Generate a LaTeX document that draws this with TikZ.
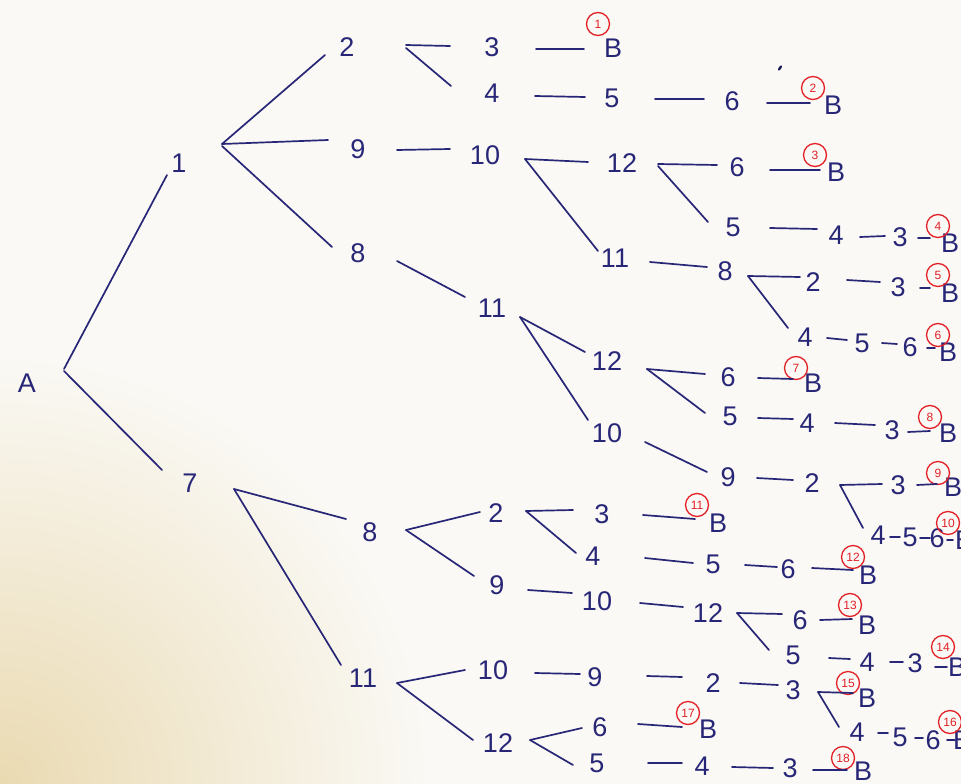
\documentclass[tikz,border=0pt]{standalone}
\usepackage{fontspec}
\setmainfont{Liberation Sans}
\definecolor{ink}{RGB}{40,38,118}
\definecolor{cred}{RGB}{226,32,38}
\definecolor{paper}{RGB}{250,249,245}
\definecolor{warm}{RGB}{234,218,178}
\newcommand{\lblfont}{\fontsize{27}{30}\selectfont}
\newcommand{\cn}[6]{\draw[ln] ([shift={(#2,#3)}]#1.center) -- ([shift={(#5,#6)}]#4.center);}
\begin{document}
\begin{tikzpicture}[x=1pt,y=-1pt,
  lbl/.style={font=\lblfont, text=ink, inner sep=0pt},
  cnum/.style={circle, draw=cred, line width=1.3pt, text=cred, font=\fontsize{12}{12}\selectfont, inner sep=0.5pt, minimum size=23pt},
  ln/.style={draw=ink, line width=1.7pt, line cap=round}]
\useasboundingbox (0,0) rectangle (961,784);
\clip (0,0) rectangle (961,784);
\fill[paper] (0,0) rectangle (961,784);
\shade[inner color=warm, outer color=paper] (0,784) circle (430);
\fill[ink!70!black, rotate around={-35:(780,68)}] (780,68) ellipse (1.3 and 3);
% labels
\node[lbl] (A) at (27,383) {A};
\node[lbl] (n1) at (179,163) {1};
\node[lbl] (n7) at (190,483) {7};
\node[lbl] (a2) at (347,47) {2};
\node[lbl] (a9) at (358,149) {9};
\node[lbl] (a8) at (358,253) {8};
\node[lbl] (a3) at (492,47) {3};
\node[lbl] (aB1) at (613,48) {B};
\node[lbl] (a4) at (492,93) {4};
\node[lbl] (a5) at (612,98) {5};
\node[lbl] (a6) at (732,101) {6};
\node[lbl] (aB2) at (833,105) {B};
\node[lbl] (a10) at (485,155) {10};
\node[lbl] (a12) at (622,163) {12};
\node[lbl] (a126) at (737,167) {6};
\node[lbl] (aB3) at (836,172) {B};
\node[lbl] (a125) at (733,227) {5};
\node[lbl] (a124) at (836,235) {4};
\node[lbl] (a123) at (900,237) {3};
\node[lbl] (aB4) at (950,243) {B};
\node[lbl] (a11) at (615,258) {11};
\node[lbl] (a118) at (725,271) {8};
\node[lbl] (a82) at (813,282) {2};
\node[lbl] (a83) at (898,287) {3};
\node[lbl] (aB5) at (950,293) {B};
\node[lbl] (a84) at (805,337) {4};
\node[lbl] (a85) at (862,343) {5};
\node[lbl] (a86) at (910,347) {6};
\node[lbl] (aB6) at (948,352) {B};
\node[lbl] (b11) at (492,308) {11};
\node[lbl] (b12) at (607,361) {12};
\node[lbl] (b6) at (728,377) {6};
\node[lbl] (bB7) at (813,383) {B};
\node[lbl] (b5) at (730,416) {5};
\node[lbl] (b4) at (807,423) {4};
\node[lbl] (b3) at (892,430) {3};
\node[lbl] (bB8) at (948,433) {B};
\node[lbl] (b10) at (607,433) {10};
\node[lbl] (b9) at (728,477) {9};
\node[lbl] (b2) at (812,483) {2};
\node[lbl] (b3x) at (898,485) {3};
\node[lbl] (bB9) at (953,487) {B};
\node[lbl] (b4x) at (878,535) {4};
\node[lbl] (b5x) at (910,537) {5};
\node[lbl] (b6x) at (937,538) {6};
\node[lbl] (bB10) at (964,540) {B};
\node[lbl] (d8) at (370,532) {8};
\node[lbl] (d2) at (496,513) {2};
\node[lbl] (d3) at (602,514) {3};
\node[lbl] (dB11) at (718,523) {B};
\node[lbl] (d4) at (593,556) {4};
\node[lbl] (d5) at (713,564) {5};
\node[lbl] (d6) at (788,569) {6};
\node[lbl] (dB12) at (868,575) {B};
\node[lbl] (d9) at (497,585) {9};
\node[lbl] (d10) at (597,601) {10};
\node[lbl] (d12) at (708,613) {12};
\node[lbl] (d6b) at (800,620) {6};
\node[lbl] (dB13) at (867,625) {B};
\node[lbl] (d5b) at (793,655) {5};
\node[lbl] (d4b) at (867,662) {4};
\node[lbl] (d3b) at (915,663) {3};
\node[lbl] (dB14) at (957,667) {B};
\node[lbl] (e11) at (363,678) {11};
\node[lbl] (e10) at (493,670) {10};
\node[lbl] (e9) at (595,677) {9};
\node[lbl] (e2) at (713,683) {2};
\node[lbl] (e3) at (793,690) {3};
\node[lbl] (eB15) at (867,698) {B};
\node[lbl] (e4) at (857,732) {4};
\node[lbl] (e5) at (900,737) {5};
\node[lbl] (e6) at (933,740) {6};
\node[lbl] (eB16) at (962,740) {B};
\node[lbl] (e12) at (498,743) {12};
\node[lbl] (e6b) at (600,727) {6};
\node[lbl] (eB17) at (708,729) {B};
\node[lbl] (e5b) at (597,763) {5};
\node[lbl] (e4b) at (702,766) {4};
\node[lbl] (e3b) at (790,768) {3};
\node[lbl] (eB18) at (863,771) {B};
% circled numbers
\node[cnum] (c1) at (598,24) {1};
\node[cnum] (c2) at (813,88) {2};
\node[cnum] (c3) at (815,155) {3};
\node[cnum] (c4) at (938,226) {4};
\node[cnum] (c5) at (938,275) {5};
\node[cnum] (c6) at (938,335) {6};
\node[cnum] (c7) at (796,368) {7};
\node[cnum] (c8) at (930,417) {8};
\node[cnum] (c9) at (938,473) {9};
\node[cnum] (c10) at (948,523) {10};
\node[cnum] (c11) at (697,505) {11};
\node[cnum] (c12) at (853,557) {12};
\node[cnum] (c13) at (850,605) {13};
\node[cnum] (c14) at (943,647) {14};
\node[cnum] (c15) at (848,683) {15};
\node[cnum] (c16) at (950,722) {16};
\node[cnum] (c17) at (688,713) {17};
\node[cnum] (c18) at (843,758) {18};
% connectors
\cn{A}{37}{-14}{n1}{-12}{12}
\cn{A}{37}{-12}{n7}{-28}{-13}
\cn{n1}{43}{-19}{a2}{-22}{8}
\cn{n1}{43}{-19}{a9}{-30}{-9}
\cn{n1}{43}{-17}{a8}{-26}{-6}
\cn{a2}{59}{-2}{a3}{-42}{-1}
\cn{a2}{59}{1}{a4}{-41}{-7}
\cn{a3}{44}{2}{aB1}{-29}{1}
\cn{a4}{43}{3}{a5}{-27}{-1}
\cn{a5}{43}{1}{a6}{-28}{-2}
\cn{a6}{35}{2}{aB2}{-23}{-2}
\cn{a9}{39}{1}{a10}{-35}{-6}
\cn{a10}{40}{4}{a12}{-34}{-1}
\cn{a10}{40}{4}{a11}{-17}{-7}
\cn{a12}{36}{1}{a126}{-20}{-2}
\cn{a12}{36}{3}{a125}{-25}{-5}
\cn{a126}{33}{3}{aB3}{-16}{-2}
\cn{a125}{37}{1}{a124}{-19}{-6}
\cn{a124}{24}{2}{a123}{-15}{-1}
\cn{a123}{18}{1}{aB4}{-20}{-5}
\cn{a11}{35}{4}{a118}{-18}{-4}
\cn{a118}{23}{5}{a82}{-13}{-5}
\cn{a118}{23}{5}{a84}{-17}{-9}
\cn{a82}{34}{-2}{a83}{-18}{-5}
\cn{a83}{22}{1}{aB5}{-20}{-5}
\cn{a84}{22}{1}{a85}{-15}{-3}
\cn{a85}{20}{0}{a86}{-13}{-3}
\cn{a86}{17}{1}{aB6}{-13}{-4}
\cn{a8}{39}{8}{b11}{-27}{-11}
\cn{b11}{28}{9}{b12}{-22}{-9}
\cn{b11}{28}{9}{b10}{-19}{-13}
\cn{b12}{40}{8}{b6}{-23}{-3}
\cn{b12}{40}{8}{b5}{-25}{-3}
\cn{b6}{30}{1}{bB7}{-20}{-4}
\cn{b5}{28}{2}{b4}{-14}{-4}
\cn{b4}{28}{0}{b3}{-17}{-5}
\cn{b3}{16}{2}{bB8}{-18}{-2}
\cn{b10}{38}{9}{b9}{-21}{-5}
\cn{b9}{29}{1}{b2}{-19}{-3}
\cn{b2}{28}{2}{b3x}{-16}{-1}
\cn{b2}{28}{2}{b4x}{-15}{-7}
\cn{b3x}{19}{0}{bB9}{-16}{-3}
\cn{b4x}{12}{2}{b5x}{-10}{0}
\cn{b5x}{10}{1}{b6x}{-7}{0}
\cn{b6x}{10}{2}{bB10}{-11}{0}
\cn{n7}{44}{6}{d8}{-24}{-13}
\cn{n7}{44}{6}{e11}{-22}{-13}
\cn{d8}{36}{-2}{d2}{-16}{-1}
\cn{d8}{36}{-2}{d9}{-23}{-9}
\cn{d2}{30}{-2}{d3}{-29}{-4}
\cn{d2}{30}{-2}{d4}{-17}{-3}
\cn{d3}{41}{1}{dB11}{-23}{-4}
\cn{d4}{52}{2}{d5}{-20}{-1}
\cn{d5}{32}{1}{d6}{-11}{-2}
\cn{d6}{24}{-1}{dB12}{-15}{-5}
\cn{d9}{31}{5}{d10}{-25}{-8}
\cn{d10}{43}{2}{d12}{-25}{-6}
\cn{d12}{29}{0}{d6b}{-18}{-6}
\cn{d12}{29}{0}{d5b}{-24}{-5}
\cn{d6b}{20}{0}{dB13}{-15}{-6}
\cn{d5b}{36}{3}{d4b}{-17}{-3}
\cn{d4b}{23}{0}{d3b}{-12}{-1}
\cn{d3b}{20}{4}{dB14}{-10}{0}
\cn{e11}{34}{5}{e10}{-28}{0}
\cn{e11}{34}{5}{e12}{-25}{-3}
\cn{e10}{42}{3}{e9}{-15}{-3}
\cn{e9}{52}{-1}{e2}{-31}{-6}
\cn{e2}{27}{0}{e3}{-15}{-5}
\cn{e3}{25}{2}{eB15}{-14}{-5}
\cn{e3}{25}{2}{e4}{-18}{-5}
\cn{e4}{21}{1}{e5}{-12}{-4}
\cn{e5}{15}{1}{e6}{-10}{-2}
\cn{e6}{14}{0}{eB16}{-7}{0}
\cn{e12}{32}{-3}{e6b}{-18}{1}
\cn{e12}{32}{-3}{e5b}{-24}{2}
\cn{e6b}{38}{-3}{eB17}{-26}{-2}
\cn{e5b}{51}{0}{e4b}{-20}{-3}
\cn{e4b}{30}{1}{e3b}{-17}{0}
\cn{e3b}{23}{2}{eB18}{-16}{-1}
\end{tikzpicture}
\end{document}
